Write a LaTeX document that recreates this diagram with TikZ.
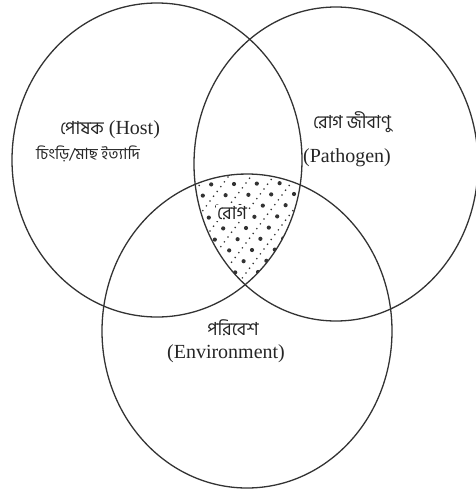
\documentclass[tikz,border=0pt]{standalone}
\usepackage{fontspec}
\setmainfont{Liberation Serif}
\newfontfamily\bn[Script=Bengali]{Hind Siliguri}
\begin{document}
\begin{tikzpicture}[x=1pt,y=-1pt,
  ring/.style={draw=black!80,line width=1.3pt},
  lat/.style={font=\fontsize{20}{22}\selectfont,text=black!85,inner sep=0pt},
  ben/.style={font=\bn\fontsize{18}{20}\selectfont,text=black!85,inner sep=0pt},
  bigdot/.style={fill=black!80},
]
\useasboundingbox (0,0) rectangle (476,493);
% dotted triple intersection
\begin{scope}
  \clip (157,160) ellipse [x radius=145,y radius=157];
  \clip (336,164) ellipse [x radius=142,y radius=157];
  \clip (247,331) ellipse [x radius=145,y radius=157];
  \foreach \i in {-5,...,5}{
    \foreach \j in {-7,...,7}{
      \fill[bigdot] ({246+\i*14.4-\j*8.4},{228+\i*10.8+\j*11.2}) circle (2.1);
    }
    \foreach \j in {-14,...,14}{
      \fill[bigdot] ({246+(\i+0.5)*14.4-\j*3.6},{228+(\i+0.5)*10.8+\j*4.8}) circle (0.9);
    }
  }
\end{scope}
\draw[ring] (157,160) ellipse [x radius=145,y radius=157];
\draw[ring] (336,164) ellipse [x radius=142,y radius=157];
\draw[ring] (247,331) ellipse [x radius=145,y radius=157];
% labels
\node[lat] (host) at (110,130) {{\bn\fontsize{18}{20}\selectfont পোষক} (Host)};
\node[ben,font=\bn\fontsize{15.5}{17}\selectfont] (hostex) at (88,154) {চিংড়ি/মাছ ইত্যাদি};
\node[ben] (path) at (352,122) {রোগ জীবাণু};
\node[lat] (pathen) at (347,158) {(Pathogen)};
\node[ben,fill=white,inner sep=1pt] (dis) at (232,213) {রোগ};
\node[ben] (env) at (233,328) {পরিবেশ};
\node[lat] (enven) at (226,354) {(Environment)};
\end{tikzpicture}
\end{document}
